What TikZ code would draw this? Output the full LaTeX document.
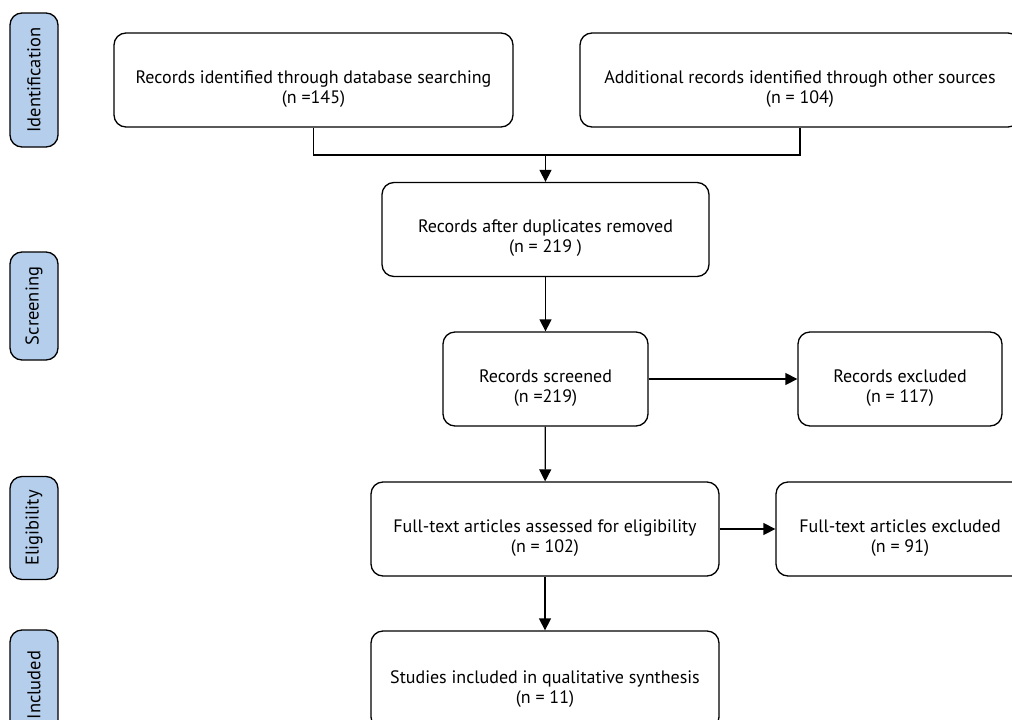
\documentclass[tikz,border=0pt]{standalone}
\usepackage{fontspec}
\setmainfont{PT Sans}
\usetikzlibrary{arrows.meta}
\tikzset{>={Triangle[length=12pt,width=12pt]}}
\definecolor{phaseblue}{RGB}{180,206,236}
\tikzset{
  box/.style={draw,rounded corners=12pt,line width=1.3pt,align=center,
    inner sep=0pt,minimum height=94pt,font=\fontsize{18}{20}\selectfont,
    execute at begin node={\rule{0pt}{50pt}}},
  phase/.style={draw,fill=phaseblue,rounded corners=12pt,line width=1.3pt,
    rotate=90,inner sep=0pt,minimum height=48pt,font=\fontsize{18.5}{20}\selectfont},
  link/.style={->,line width=1.3pt}
}

\begin{document}
\begin{tikzpicture}[x=1pt,y=-1pt]
  \useasboundingbox (0,0) rectangle (1012,720);
  \clip (0,0) rectangle (1012,720);
  % phases
  \node[phase,minimum width=134pt] (ident) at (34,80) {Identification};
  \node[phase,minimum width=108pt] (screen) at (34,306) {Screening};
  \node[phase,minimum width=103pt] (elig) at (34,528) {Eligibility};
  \node[phase,minimum width=110pt] (incl) at (34,685) {Included};
  % identification
  \node[box,minimum width=399pt] (db) at (313.5,80) {Records identified through database searching\\(n =145)};
  \node[box,minimum width=440pt] (other) at (800,80) {Additional records identified through other sources\\(n = 104)};
  \coordinate (merge) at (545.5,155);
  % screening
  \node[box,minimum width=327pt] (dup) at (545.5,229.5) {Records after duplicates removed\\(n = 219 )};
  \node[box,minimum width=205pt] (screened) at (545.5,379) {Records screened\\(n =219)};
  \node[box,minimum width=204pt] (excl) at (900,379) {Records excluded\\(n = 117)};
  % eligibility
  \node[box,minimum width=348pt] (full) at (545,529) {Full-text articles assessed for eligibility\\(n = 102)};
  \node[box,minimum width=248pt] (fullex) at (900,529) {Full-text articles excluded\\(n = 91)};
  % included
  \node[box,minimum width=348pt,minimum height=98pt] (study) at (545,680) {Studies included in qualitative synthesis\\(n = 11)};

  \draw[line width=1.3pt] (db.south) |- (merge) -| (other.south);
  \draw[link] (merge) -- (dup.north);
  \draw[link] (dup) -- (screened);
  \draw[link] (screened) -- (excl);
  \draw[link] (screened) -- (full);
  \draw[link] (full) -- (fullex);
  \draw[link] (full) -- (study);
\end{tikzpicture}
\end{document}
